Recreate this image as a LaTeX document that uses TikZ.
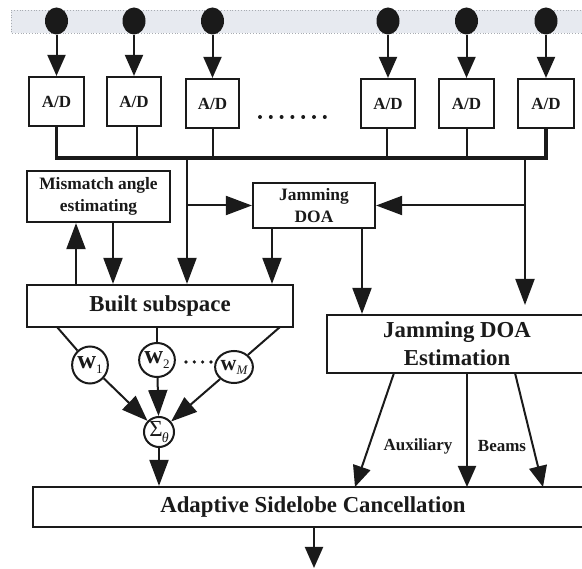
\documentclass[tikz,border=0pt]{standalone}
\usepackage{fontspec}
\setmainfont{Liberation Serif}
\usetikzlibrary{arrows.meta,shapes.geometric}
\definecolor{ink}{HTML}{1A1A1A}
\definecolor{bandfill}{HTML}{E7EAF0}
\definecolor{banddot}{HTML}{A8ACB2}
\begin{document}
\begin{tikzpicture}[x=1pt,y=-1pt,
  every node/.style={text=ink},
  boxbase/.style={draw=ink, line width=2.2pt, fill=white, inner sep=0pt, align=center},
  adbox/.style={boxbase, minimum height=49pt, font=\fontsize{17}{20}\selectfont\bfseries},
  medbox/.style={boxbase, font=\fontsize{17.4}{22}\selectfont\bfseries},
  bigbox/.style={boxbase, font=\fontsize{22.8}{28}\selectfont\bfseries},
  antdot/.style={ellipse, fill=ink, minimum width=23pt, minimum height=27pt, inner sep=0pt},
  wcirc/.style={ellipse, draw=ink, line width=2pt, fill=white, inner sep=0pt},
  ln/.style={draw=ink, line width=2pt},
  arrS/.style={ln, -{Triangle[length=21pt,width=18pt]}},
  arrM/.style={ln, -{Triangle[length=26pt,width=19pt]}},
  lbl/.style={font=\fontsize{17}{20}\selectfont\bfseries, inner sep=0pt},
]
\useasboundingbox (0,0) rectangle (582,569);
\clip (0,0) rectangle (582,569);

% antenna band
\fill[bandfill] (11,10) rectangle (600,33);
\draw[banddot, dotted, line width=0.8pt] (600,10) -- (11,10) -- (11,33) -- (600,33);

% A/D boxes
\node[adbox, minimum width=55pt] (ad1) at (56.5,101.5) {A/D};
\node[adbox, minimum width=54pt] (ad2) at (134,101.5) {A/D};
\node[adbox, minimum width=53pt] (ad3) at (212.5,103.5) {A/D};
\node[adbox, minimum width=54pt] (ad4) at (388,103.5) {A/D};
\node[adbox, minimum width=55pt] (ad5) at (466.5,103.5) {A/D};
\node[adbox, minimum width=56pt] (ad6) at (546,103.5) {A/D};

% antenna elements
\foreach \k/\xx in {1/56.5,2/134,3/212.5,4/388,5/466.5,6/546}{
  \node[antdot] (d\k) at (\xx,21) {};
  \draw[arrS] (d\k) -- (ad\k);
}
\foreach \i in {0,...,6} \fill[ink] (260+\i*10.8,117) circle (2pt);

% bus
\coordinate (busy) at (0,158);
\draw[draw=ink, line width=3.5pt] (ad1.south) -- (ad1.south |- busy) -- (ad6.south |- busy) -- (ad6.south);
\draw[ln] ([xshift=3pt]ad2.south) -- ([xshift=3pt]ad2.south |- busy);
\draw[ln] (ad3.south) -- (ad3.south |- busy);
\draw[ln] ([xshift=-1pt]ad4.south) -- ([xshift=-1pt]ad4.south |- busy);
\draw[ln] (ad5.south) -- (ad5.south |- busy);

% middle blocks
\node[medbox, minimum width=143pt, minimum height=51pt] (mm) at (98.5,196.5) {Mismatch angle\\estimating};
\node[medbox, minimum width=122pt, minimum height=45pt] (jdoa) at (314,205.5) {Jamming\\DOA};
\node[bigbox, minimum width=266pt, minimum height=42pt] (bs) at (160,306) {Built subspace};
\node[bigbox, minimum width=260pt, minimum height=58pt] (jde) at (457,344) {Jamming DOA\\Estimation};
\node[bigbox, minimum width=560pt, minimum height=40pt] (asc) at (313,507) {Adaptive Sidelobe Cancellation};

% taps from the bus
\coordinate (tapL) at (187,158);
\coordinate (tapR) at (525,158);
\coordinate (endR) at (525,305);
\draw[arrM] (tapL) -- (tapL |- bs.north);
\draw[arrM] (tapL |- jdoa.west) -- (jdoa.west);
\draw[arrM] (tapR) -- (endR);
\draw[arrM] (tapR |- jdoa.east) -- (jdoa.east);

% mismatch arrows
\coordinate (xmu) at (76,0);
\coordinate (xmd) at (113,0);
\draw[arrM] (bs.north -| xmu) -- (mm.south -| xmu);
\draw[arrM] (mm.south -| xmd) -- (bs.north -| xmd);

% jamming DOA outputs
\coordinate (xj1) at (272,0);
\coordinate (xj2) at (362,0);
\draw[arrM] (jdoa.south -| xj1) -- (bs.north -| xj1);
\draw[arrM] (jdoa.south -| xj2) -- (jde.north -| xj2);

% weights
\node[wcirc, minimum width=33pt, minimum height=37pt] (w1) at (90,365)
  {\fontsize{26}{26}\selectfont\bfseries w\raisebox{-0.4ex}{\fontsize{13}{13}\selectfont\mdseries 1}};
\node[wcirc, minimum width=33pt, minimum height=34pt] (w2) at (157,360)
  {\fontsize{26}{26}\selectfont\bfseries w\raisebox{-0.4ex}{\fontsize{13}{13}\selectfont\mdseries 2}};
\node[wcirc, minimum width=36pt, minimum height=32pt] (wM) at (234,367)
  {\fontsize{22}{22}\selectfont\bfseries w\raisebox{-0.4ex}{\fontsize{13}{13}\selectfont\mdseries\itshape M}};
\node[wcirc, minimum width=30pt, minimum height=30pt] (sig) at (159,432)
  {\fontsize{23}{23}\selectfont Σ\kern-1pt\raisebox{-0.55ex}{\fontsize{14}{14}\selectfont\itshape θ}};
\foreach \xx in {186,194.3,202.6,211} \fill[ink] (\xx,362) circle (1.8pt);

\coordinate (bsw1) at (57,327);
\coordinate (bsw3) at (280,327);
\draw[ln] (bsw1) -- (w1);
\draw[ln] (bs.south -| w2) -- (w2);
\draw[ln] (bsw3) -- (wM);
\draw[arrM] (w1) -- (sig);
\draw[arrM] (w2) -- (sig);
\draw[arrM] (wM) -- (sig);
\draw[arrM] (sig) -- (sig |- asc.north);

% JDE to ASC
\coordinate (j1) at (394,373);
\coordinate (t1) at (355,487);
\coordinate (j2) at (467,373);
\coordinate (t2) at (467,487);
\coordinate (j3) at (515,373);
\coordinate (t3) at (543,487);
\draw[arrS] (j1) -- (t1);
\draw[arrS] (j2) -- (t2);
\draw[arrS] (j3) -- (t3);
\node[lbl] (aux) at (418,446) {Auxiliary};
\node[lbl] (beams) at (502,446) {Beams};

% output
\coordinate (outx) at (314,0);
\coordinate (outp) at (314,568);
\draw[arrS] (asc.south -| outx) -- (outp);
\end{tikzpicture}
\end{document}
